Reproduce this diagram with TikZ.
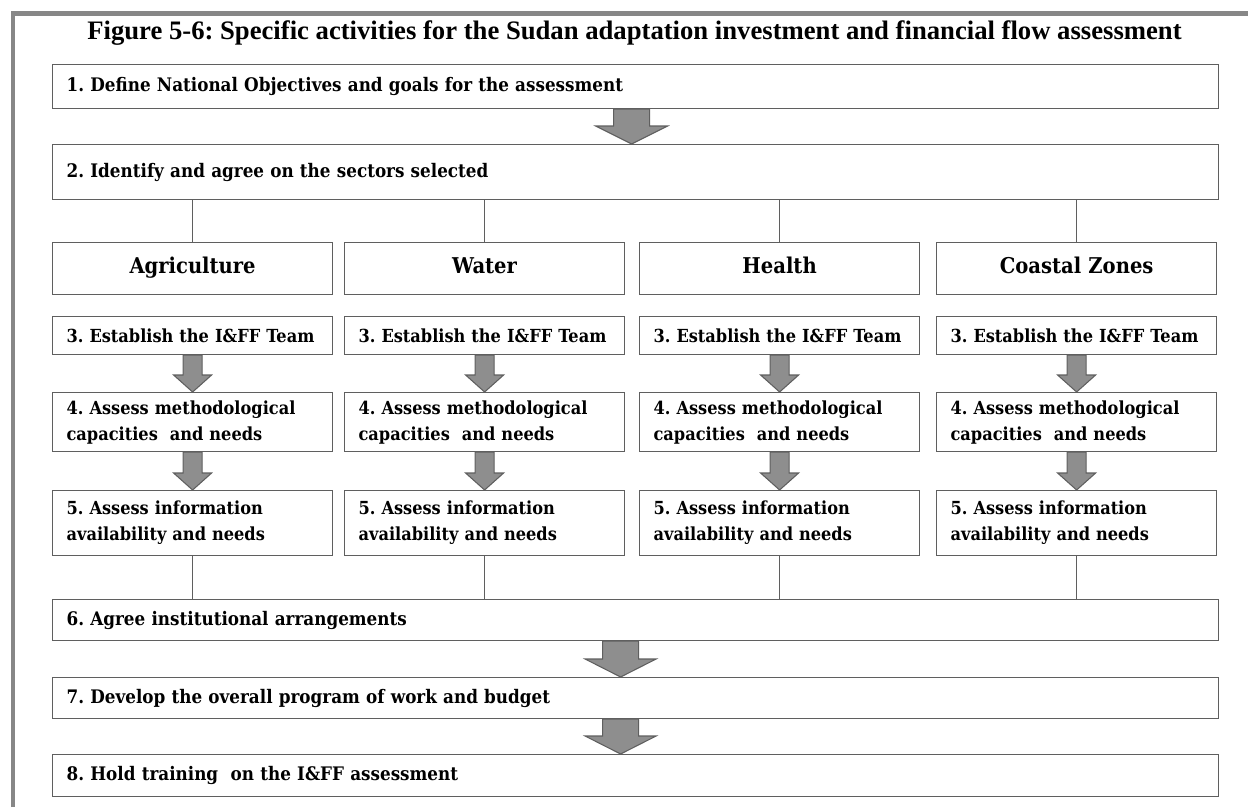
\documentclass[tikz,border=0pt]{standalone}
\usepackage{fontspec}
\setmainfont{DejaVu Serif}[FakeStretch=0.9]
\newfontfamily\titlefont{Liberation Serif}
\frenchspacing
\usetikzlibrary{calc}
\definecolor{framegray}{RGB}{135,135,135}
\definecolor{linegray}{RGB}{95,95,95}
\definecolor{arrowgray}{RGB}{142,142,142}
\tikzset{
	stepbox/.style={draw=linegray, line width=0.9pt, anchor=north west, inner xsep=10.5pt, inner ysep=0pt, align=left, font=\fontsize{13.5}{19.5}\selectfont\bfseries},
	widebox/.style={stepbox, text width=853.5pt, minimum height=#1, font=\fontsize{14}{19.5}\selectfont\bfseries},
	colbox/.style={stepbox, text width=189pt, minimum height=#1},
	sectorbox/.style={stepbox, text width=189pt, minimum height=39pt, align=center, text height=11.5pt, text depth=3.5pt, font=\fontsize{16.3}{19}\selectfont\bfseries},
	linkline/.style={draw=linegray, line width=0.9pt},
	blockfill/.style={fill=arrowgray, draw=linegray, line width=0.8pt, line join=miter}
}
\def\blockarrow(#1)(#2)(#3:#4:#5){\draw[blockfill] ($(#1)+(-#3,0)$) -- ($(#2)+(-#3,-#5)$) -- ($(#2)+(-#4,-#5)$) -- (#2) -- ($(#2)+(#4,-#5)$) -- ($(#2)+(#3,-#5)$) -- ($(#1)+(#3,0)$) -- cycle;}

\begin{document}
\begin{tikzpicture}[x=0.75pt, y=-0.75pt]
			%%%%% START %%%%%
			\useasboundingbox (0,0) rectangle (1248,807);
			\draw[framegray, line width=3.4pt] (13,807) -- (13,13.5) -- (1248,13.5);
			
			\node[font={\titlefont\fontsize{20}{24}\selectfont\bfseries}] (title) at (634.5,33) {Figure 5-6: Specific activities for the Sudan adaptation investment and financial flow assessment};
			
			\node[widebox=33pt] (b1) at (52,64) {1. Define National Objectives and goals for the assessment};
			\node[widebox=41.25pt] (b2) at (52,144) {2. Identify and agree on the sectors selected};
			
			\node[sectorbox] (agri) at (52,242) {Agriculture};
			\node[colbox=28.5pt] (agri3) at (52,316) {3. Establish the I\&FF Team};
			\node[colbox=44.25pt] (agri4) at (52,392) {4. Assess methodological\\capacities\ \ and needs};
			\node[colbox=48.75pt] (agri5) at (52,490) {5. Assess information\\availability and needs};
			
			\node[sectorbox] (water) at (344,242) {Water};
			\node[colbox=28.5pt] (water3) at (344,316) {3. Establish the I\&FF Team};
			\node[colbox=44.25pt] (water4) at (344,392) {4. Assess methodological\\capacities\ \ and needs};
			\node[colbox=48.75pt] (water5) at (344,490) {5. Assess information\\availability and needs};
			
			\node[sectorbox] (health) at (639,242) {Health};
			\node[colbox=28.5pt] (health3) at (639,316) {3. Establish the I\&FF Team};
			\node[colbox=44.25pt] (health4) at (639,392) {4. Assess methodological\\capacities\ \ and needs};
			\node[colbox=48.75pt] (health5) at (639,490) {5. Assess information\\availability and needs};
			
			\node[sectorbox] (coast) at (936,242) {Coastal Zones};
			\node[colbox=28.5pt] (coast3) at (936,316) {3. Establish the I\&FF Team};
			\node[colbox=44.25pt] (coast4) at (936,392) {4. Assess methodological\\capacities\ \ and needs};
			\node[colbox=48.75pt] (coast5) at (936,490) {5. Assess information\\availability and needs};
			
			\node[widebox=30.75pt] (b6) at (52,599) {6. Agree institutional arrangements};
			\node[widebox=30.75pt] (b7) at (52,677) {7. Develop the overall program of work and budget};
			\node[widebox=31.5pt] (b8) at (52,754) {8. Hold training\ \ on the I\&FF assessment};
			
			% sector links
			\draw[linkline] (agri.north) -- (agri.north |- b2.south);
			\draw[linkline] (water.north) -- (water.north |- b2.south);
			\draw[linkline] (health.north) -- (health.north |- b2.south);
			\draw[linkline] (coast.north) -- (coast.north |- b2.south);
			\draw[linkline] (agri5.south) -- (agri5.south |- b6.north);
			\draw[linkline] (water5.south) -- (water5.south |- b6.north);
			\draw[linkline] (health5.south) -- (health5.south |- b6.north);
			\draw[linkline] (coast5.south) -- (coast5.south |- b6.north);
			
			% block arrows
			\blockarrow([xshift=-3pt]b1.south)([xshift=-3pt]b2.north)(18:36:18);
			\blockarrow(agri3.south)(agri4.north)(9.5:19:17);
			\blockarrow(agri4.south)(agri5.north)(9.5:19:17);
			\blockarrow(water3.south)(water4.north)(9.5:19:17);
			\blockarrow(water4.south)(water5.north)(9.5:19:17);
			\blockarrow(health3.south)(health4.north)(9.5:19:17);
			\blockarrow(health4.south)(health5.north)(9.5:19:17);
			\blockarrow(coast3.south)(coast4.north)(9.5:19:17);
			\blockarrow(coast4.south)(coast5.north)(9.5:19:17);
			\blockarrow([xshift=-11.25pt]b6.south)([xshift=-11.25pt]b7.north)(18:35.5:18);
			\blockarrow([xshift=-11.25pt]b7.south)([xshift=-11.25pt]b8.north)(18:35.5:18);
			%%%%% END %%%%%
\end{tikzpicture}
\end{document}
